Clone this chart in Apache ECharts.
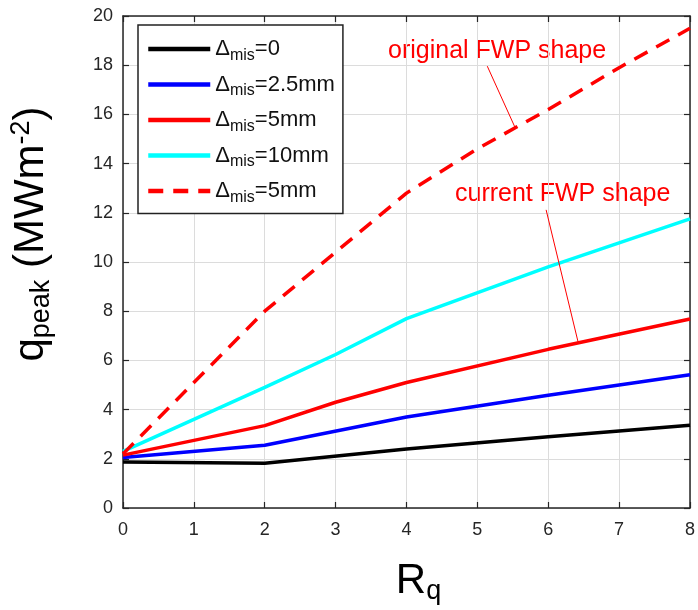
<!DOCTYPE html>
<html><head><meta charset="utf-8">
<script src="https://cdn.jsdelivr.net/npm/echarts@6/dist/echarts.min.js"></script>
<style>html,body{margin:0;padding:0;background:#fff}#c{width:698px;height:610px}</style>
</head><body><div id="c"></div>
<script>
// ---- data ----
const xTicks = [0,1,2,3,4,5,6,7,8];
const yTicks = [0,2,4,6,8,10,12,14,16,18,20];
const xBlack = [0,2,4,6,8];
const misBlack = [1.87,1.82,2.40,2.90,3.36];
const xBlue = [0,2,4,6,8];
const misBlue = [2.05,2.55,3.70,4.58,5.42];
const xRed = [0,2,3,4,6,8];
const misRed = [2.15,3.35,4.30,5.10,6.45,7.68];
const xCyan = [0,2,3,4,6,8];
const misCyan = [2.30,4.90,6.24,7.70,9.80,11.75];
const xDash = [0,1,2,3,4,5,6,7,8];
const misDash = [2.2,5.1,8.0,10.4,12.8,14.6,16.2,17.9,19.5];
const seriesKeys = ['k0','k25','k5','k10','k5o'];
const legendSuffix = ['=0','=2.5mm','=5mm','=10mm','=5mm'];
const annOriginal = 'original FWP shape';
const annCurrent = 'current FWP shape';
const leaderOriginal = [[5.14,17.96],[5.53,15.48]];
const leaderCurrent = [[5.97,12.12],[6.42,6.76]];

const pair = (xs, ys) => xs.map((x,i)=>[x, ys[i]]);
const font = 'Liberation Sans, Arial, Helvetica, sans-serif';
const axisCol = '#262626';

const chart = echarts.init(document.getElementById('c'), null, {renderer:'canvas'});

const leader = (pts) => ({
  silent:true, symbol:['none','none'], animation:false,
  label:{show:false},
  lineStyle:{color:'#ff0000', width:1, type:'solid'},
  emphasis:{disabled:true},
  data:[[{coord:pts[0]},{coord:pts[1]}]]
});

const mkSeries = (name, data, color, type, extra) => Object.assign({
  name, type:'line', data, showSymbol:false, symbol:'none', animation:false,
  lineStyle:{color, width:3.5, type}, itemStyle:{color}, z: 3
}, extra||{});

const baseAxis = {
  axisLine:{show:true, onZero:false, lineStyle:{color:axisCol, width:1.5}},
  axisTick:{show:true, inside:true, length:6, lineStyle:{color:axisCol, width:1.2}},
};

chart.setOption({
  backgroundColor:'#fff',
  animation:false,
  grid:{left:118, right:6, top:16, bottom:94, containLabel:false},
  legend:{
    orient:'vertical', left:138, top:25,
    padding:[13,8,8,8], itemGap:10, itemWidth:62, itemHeight:14,
    backgroundColor:'#fff', borderColor:'#222', borderWidth:1.5,
    itemStyle:{opacity:0},
    lineStyle:{width:4.5},
    data: seriesKeys,
    formatter: (name) => '{d|Δ}{s|mis}{t|' + legendSuffix[seriesKeys.indexOf(name)] + '}',
    textStyle:{
      fontFamily:font, color:'#111',
      rich:{
        d:{fontSize:22, fontFamily:font, color:'#111'},
        t:{fontSize:22, fontFamily:font, color:'#111'},
        s:{fontSize:16, fontFamily:font, color:'#111', padding:[13,0,0,0]}
      }
    }
  },
  xAxis:[
    Object.assign({}, baseAxis, {
      type:'value', min:0, max:8, interval:1, position:'bottom',
      axisLabel:{color:axisCol, fontSize:18, fontFamily:font, margin:13},
      splitLine:{show:true, lineStyle:{color:'#dcdcdc', width:1}},
      name:'{r|R}{s|q}', nameLocation:'middle', nameGap:50,
      nameTextStyle:{padding:[0,0,0,24], rich:{
        r:{fontSize:42, fontFamily:font, color:'#000'},
        s:{fontSize:27, fontFamily:font, color:'#000', padding:[20,0,0,0]}
      }}
    }),
    Object.assign({}, baseAxis, {
      type:'value', min:0, max:8, interval:1, position:'top',
      axisLabel:{show:false}, splitLine:{show:false}
    })
  ],
  yAxis:[
    Object.assign({}, baseAxis, {
      type:'value', min:0, max:20, interval:2, position:'left',
      axisLabel:{color:axisCol, fontSize:18, fontFamily:font, margin:10},
      splitLine:{show:true, lineStyle:{color:'#dcdcdc', width:1}},
      name:'{q|q}{s|peak}{q| (MWm}{p|-2}{q|)}', nameLocation:'middle', nameGap:68, nameRotate:90,
      nameTextStyle:{padding:[0,0,0,56], rich:{
        q:{fontSize:42, fontFamily:font, color:'#000'},
        s:{fontSize:27, fontFamily:font, color:'#000', padding:[20,0,0,0]},
        p:{fontSize:27, fontFamily:font, color:'#000', padding:[0,0,20,0]}
      }}
    }),
    Object.assign({}, baseAxis, {
      type:'value', min:0, max:20, interval:2, position:'right',
      axisLabel:{show:false}, splitLine:{show:false}
    })
  ],
  graphic:[
    {type:'text', left:388, top:39, style:{text:annOriginal, fill:'#ff0000', font:'25px ' + font}},
    {type:'text', left:455, top:182, style:{text:annCurrent, fill:'#ff0000', font:'25px ' + font}}
  ],
  series:[
    mkSeries(seriesKeys[0], pair(xBlack, misBlack), '#000000', 'solid'),
    mkSeries(seriesKeys[1], pair(xBlue, misBlue), '#0000ff', 'solid'),
    mkSeries(seriesKeys[2], pair(xRed, misRed), '#ff0000', 'solid', {markLine: leader(leaderCurrent)}),
    mkSeries(seriesKeys[3], pair(xCyan, misCyan), '#00ffff', 'solid'),
    mkSeries(seriesKeys[4], pair(xDash, misDash), '#ff0000', [15,10], {markLine: leader(leaderOriginal)})
  ]
});
</script></body></html>
